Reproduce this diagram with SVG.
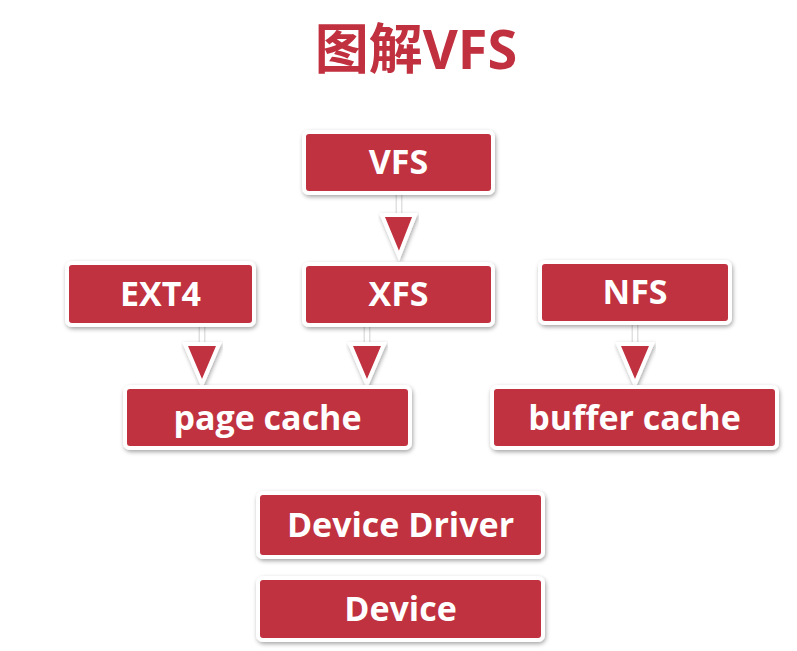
<svg xmlns="http://www.w3.org/2000/svg" width="797" height="651" viewBox="0 0 797 651">
<defs>
<filter id="sh" x="-10%" y="-20%" width="120%" height="150%">
<feDropShadow dx="1" dy="2" stdDeviation="2" flood-color="#000" flood-opacity="0.35"/>
</filter>
<style>
.box{fill:#C1303F;stroke:#fff;stroke-width:4;filter:url(#sh)}
.lbl{fill:#fff;font-family:"Open Sans","Liberation Sans",sans-serif;font-weight:bold;font-size:34px;text-anchor:middle}
.stem{stroke:#fff;stroke-width:4}
.stem0{stroke:#e0e0e0;stroke-width:7}
.tri{fill:#C1303F;stroke:#fff;stroke-width:4;stroke-linejoin:miter;filter:url(#sh)}
.title{fill:#C1303F;font-family:"Open Sans","Liberation Sans","Noto Sans CJK SC",sans-serif;font-weight:bold;font-size:54px;text-anchor:middle}
</style>
</defs>
<rect width="797" height="651" fill="#fff"/>
<text class="title" x="416" y="69">图解VFS</text>
<g id="connectors">
<g id="c-vfs-xfs"><line class="stem0" x1="399" y1="194" x2="399" y2="215"/><line class="stem" x1="399" y1="194" x2="399" y2="215"/><polygon class="tri" points="382,215 415,215 399,256"/></g>
<g id="c-ext4-page"><line class="stem0" x1="202" y1="327" x2="202" y2="344"/><line class="stem" x1="202" y1="327" x2="202" y2="344"/><polygon class="tri" points="185,344 219,344 202,384"/></g>
<g id="c-xfs-page"><line class="stem0" x1="367" y1="326" x2="367" y2="344"/><line class="stem" x1="367" y1="326" x2="367" y2="344"/><polygon class="tri" points="350,344 384,344 367,384"/></g>
<g id="c-nfs-buffer"><line class="stem0" x1="635" y1="325" x2="635" y2="344"/><line class="stem" x1="635" y1="325" x2="635" y2="344"/><polygon class="tri" points="618,344 652,344 635,384"/></g>
</g>
<g id="vfs"><rect class="box" x="304" y="132" width="189" height="61" rx="5"/><text class="lbl" x="398.5" y="174">VFS</text></g>
<g id="ext4"><rect class="box" x="67" y="263" width="187" height="62" rx="5"/><text class="lbl" x="160.5" y="306">EXT4</text></g>
<g id="xfs"><rect class="box" x="304" y="264" width="189" height="61" rx="5"/><text class="lbl" x="398.5" y="306">XFS</text></g>
<g id="nfs"><rect class="box" x="540" y="262" width="190" height="61" rx="5"/><text class="lbl" x="635" y="304">NFS</text></g>
<g id="page-cache"><rect class="box" x="125" y="387" width="285" height="61" rx="5"/><text class="lbl" x="267.5" y="430">page cache</text></g>
<g id="buffer-cache"><rect class="box" x="492" y="387" width="285" height="61" rx="5"/><text class="lbl" x="634.5" y="430">buffer cache</text></g>
<g id="device-driver"><rect class="box" x="258" y="493" width="285" height="64" rx="5"/><text class="lbl" x="400.5" y="537">Device Driver</text></g>
<g id="device"><rect class="box" x="258" y="578" width="285" height="62" rx="5"/><text class="lbl" x="400.5" y="621">Device</text></g>
</svg>
